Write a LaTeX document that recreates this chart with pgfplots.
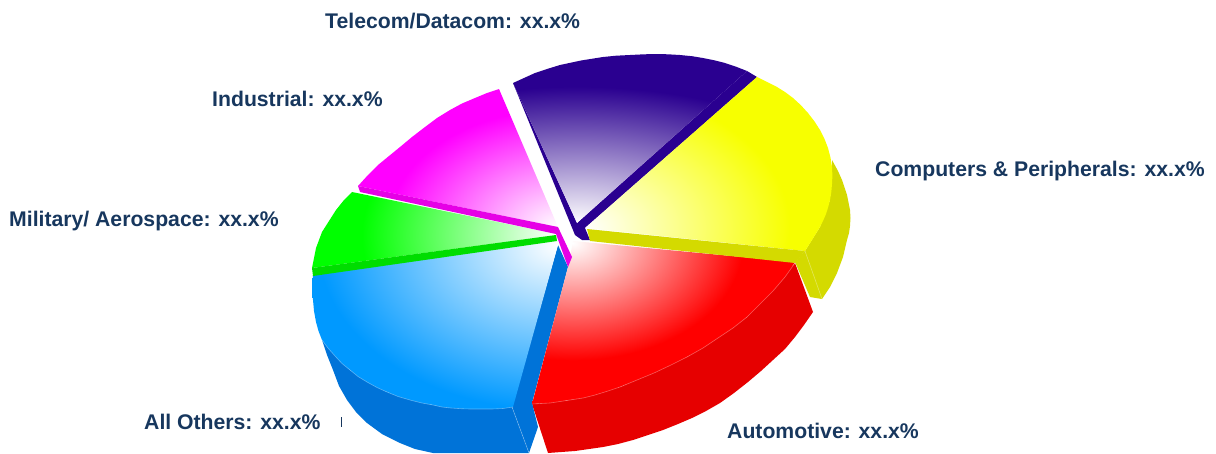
\documentclass[border=0pt]{standalone}
\usepackage{fontspec}
\setmainfont{Liberation Sans}
\usepackage{pgfplots}
\pgfplotsset{compat=1.18}
\definecolor{lab}{HTML}{17375E}
\definecolor{syellow}{HTML}{D4DA00}
\definecolor{sred}{HTML}{E60000}
\definecolor{sblue}{HTML}{0073D8}
\definecolor{sgreen}{HTML}{00DD00}
\definecolor{smag}{HTML}{E600E6}
\definecolor{cnavy}{HTML}{2A0090}
\def\asp{1.45}
% name, xmin,xmax,ymin,ymax, apex x,y, R, 1-r,1-g,1-b
\newcommand\defwedge[9]{%
 \pgfmathsetmacro\W{#3-#2}\pgfmathsetmacro\H{#5-#4}%
 \pgfmathsetmacro\axs{25+50*(#6-#2)/\W}\pgfmathsetmacro\ays{25+50*(#5-#7)/\H}%
 \pgfmathsetmacro\kx{(\W/50)/#8}\pgfmathsetmacro\ky{(\H/50)*\asp/#8}%
 \edef\tmp{\noexpand\pgfdeclarefunctionalshading{#1}{\noexpand\pgfpoint{0bp}{0bp}}{\noexpand\pgfpoint{100bp}{100bp}}{}{%
  \ays\space sub \ky\space mul dup mul exch \axs\space sub \kx\space mul dup mul add sqrt
  dup 1 gt {pop 1} if #9}}\tmp}
\newcommand\cc[3]{dup #1 mul 1 exch sub exch dup #2 mul 1 exch sub exch #3 mul 1 exch sub}
\defwedge{wyellow}{585}{832.4}{77}{251}{585}{228}{205}{\cc{0.03}{0}{1}}
\defwedge{wred}{532}{795}{241}{404}{573}{243}{170}{\cc{0}{1}{1}}
\defwedge{wblue}{312}{558}{240}{409}{558}{245}{240}{\cc{1}{0.4}{0}}
\defwedge{wgreen}{312}{557}{192}{268}{557}{235}{195}{\cc{1}{0}{1}}
\defwedge{wmag}{358}{558}{89}{227}{558}{227}{170}{\cc{0}{1}{0}}
\def\asp{2.2}
\defwedge{wnavy}{513}{747}{54}{223}{577}{223}{300}{\cc{0.835}{1}{0.435}}
\begin{document}
\begin{tikzpicture}
\begin{axis}[width=1216pt,height=453pt,scale only axis,xmin=0,xmax=1216,ymin=0,ymax=453,y dir=reverse,hide axis,clip=true]
% outer sides
\addplot[fill=syellow,draw=none] coordinates {(832,160)(838,171)(842,180)(847,195)(850,210)(850.5,218)(850,226)(849,233)(847,240)(843,257)(837,273)(830,287)(822,299)(810,297)(795,262)(805,251)(820,227)(830,200)(832,167)} -- cycle;
\addplot[fill=sred,draw=none] coordinates {(795,263)(813,312)(804,325)(795,337)(785,349)(773,360)(761,371)(748,382)(734,393)(720,403)(706,411)(692,418)(678,424)(663,430)(648,435)(633,440)(618,444)(603,447)(589,449)(575,451)(548,453)(532,404)(570,400)(620,387)(687,357)(747,317)} -- cycle;
\addplot[fill=sblue,draw=none] coordinates {(322,340)(327,355)(333,370)(339,386)(347,400)(356,412)(367,423)(382,434)(400,443)(415,449)(433,453)(529,453)(512,407)(470,409)(433,405)(387,392)(350,370)} -- cycle;
\addplot[fill=sblue,draw=none] coordinates {(558,245)(568,267)(532,403)(538,427)(529,453)(512,407)} -- cycle;
\addplot[fill=cnavy,draw=none] coordinates {(747,71)(757,77)(585,228)(590,240)(582,240)(575,235)(513,83)(577,223)} -- cycle;
% tops
\addplot[shading=wyellow,draw=none] coordinates {(757,77)(767,82)(777,87)(785.3,92.2)(793,98)(800.8,105.1)(808,113)(814.4,121.3)(820,130)(824.5,138.9)(828,148)(830.5,157.6)(832,167)(832.4,175.7)(832,184)(831.3,192)(830,200)(828.2,207)(826,214)(823.2,220.5)(820,227)(816,233.5)(812,240)(808.5,245.5)(805,251)(585,228)} -- cycle;
\addplot[shading=wred,draw=none] coordinates {(573,241)(795,262)(785,277)(773,291)(760,304)(747,317)(733,328)(718,338)(703,348)(687,357)(671,365)(654,373)(637,380)(620,387)(608,391)(595,395)(583,398)(570,400)(550,403)(532,404)(568,267)} -- cycle;
\addplot[shading=wblue,draw=none] coordinates {(557,240)(558,245)(513,407)(503,408.5)(492,409)(481,409)(470,409)(461,408.7)(451,408)(442,407)(433,405)(422,403)(410,400)(398,396.5)(387,392)(377,387.5)(367,382)(358,376.5)(350,370)(342,363.5)(335,356)(328,348)(322,340)(318.5,331)(316,322)(314,311)(313,300)(312,292)(312,285)(312.5,281)(313,275)} -- cycle;
\addplot[shading=wgreen,draw=none] coordinates {(352,192)(556,234)(557,235)(312,268)(314,258)(316,248)(319,240)(322,232)(329,221)(336,210)(344,200)} -- cycle;
\addplot[shading=wmag,draw=none] coordinates {(499,89)(558,227)(358,186)(368,175)(378,165)(389,156)(400,147)(412,137)(425,127)(437,118)(450,110)(462,103.5)(475,98)(487,93)} -- cycle;
\addplot[shading=wnavy,draw=none] coordinates {(513,83)(524,78)(535,73)(547,69)(560,65)(581,60.5)(603,57)(616,55.7)(630,55)(644,54.3)(657,54)(668,54.3)(680,55)(692,56.2)(703,58)(714,60.2)(725,63)(736,66.7)(747,71)(577,223)} -- cycle;
% inner side bands
\addplot[fill=syellow,draw=none] coordinates {(587,229)(805,251)(795,263)(590,241)} -- cycle;
\addplot[fill=sgreen,draw=none] coordinates {(312,268)(556,235)(557,241)(313,276)} -- cycle;
\addplot[fill=smag,draw=none] coordinates {(358,186)(558,227)(572,257)(568,267)(556,234)(360,192)} -- cycle;
% rim highlights
\addplot[draw=white,opacity=.35,line width=.6pt] coordinates {(795,263)(785,277)(773,291)(760,304)(747,317)(733,328)(718,338)(703,348)(687,357)(671,365)(654,373)(637,380)(620,387)(608,391)(595,395)(583,398)(570,400)(550,403)(532,404)};
\addplot[draw=white,opacity=.35,line width=.6pt] coordinates {(513,407)(503,408.5)(492,409)(481,409)(470,409)(461,408.7)(451,408)(442,407)(433,405)(422,403)(410,400)(398,396.5)(387,392)(377,387.5)(367,382)(358,376.5)(350,370)(342,363.5)(335,356)(328,348)(322,340)};
\addplot[draw=white,opacity=.35,line width=.6pt] coordinates {(805,251)(822,299)};
\addplot[draw=white,opacity=.35,line width=.6pt] coordinates {(512,407)(529,453)};
\addplot[draw=lab,line width=.5pt] coordinates {(341,417)(341,427)};
% labels
\begin{scope}[every node/.style={anchor=base west,inner sep=0pt,font=\fontsize{21.2}{23}\selectfont\bfseries,text=lab}]
\node at (axis cs:325,28) {Telecom/Datacom: xx.x\%};
\node at (axis cs:212,106) {Industrial: xx.x\%};
\node at (axis cs:875,176) {Computers \& Peripherals: xx.x\%};
\node at (axis cs:9,226) {Military/ Aerospace: xx.x\%};
\node at (axis cs:144,429) {All Others: xx.x\%};
\node at (axis cs:727,438) {Automotive: xx.x\%};
\end{scope}
\end{axis}
\path (0,0) rectangle (1216pt,453pt);
\end{tikzpicture}
\end{document}
